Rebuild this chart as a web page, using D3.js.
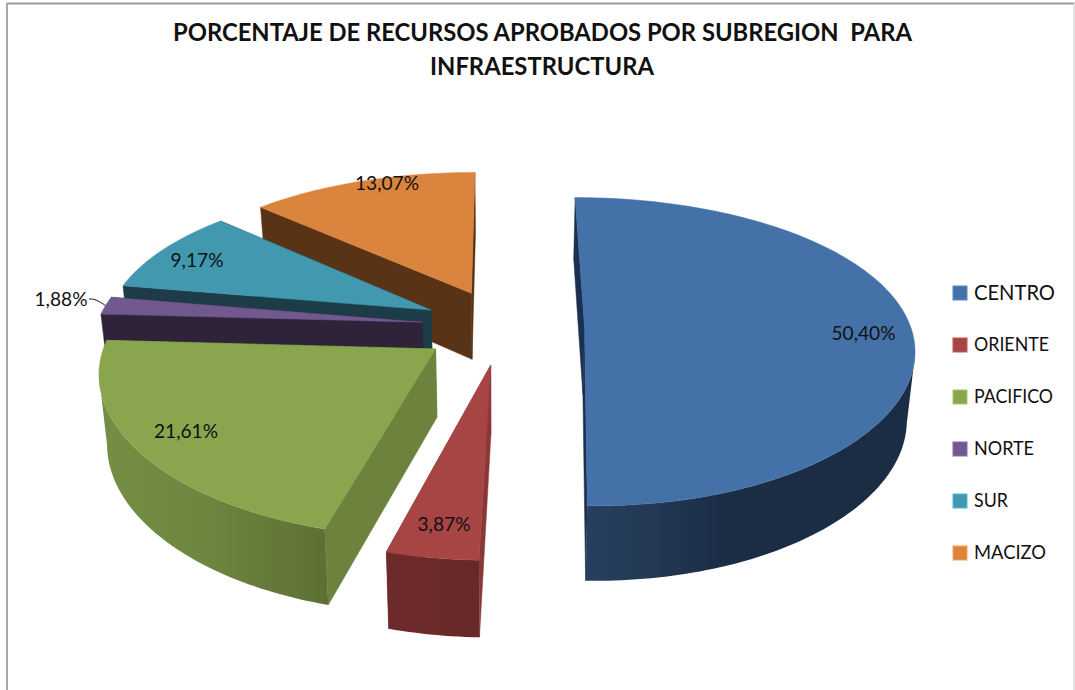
<!DOCTYPE html>
<html>
<head>
<meta charset="utf-8">
<script src="https://cdn.jsdelivr.net/npm/d3@7"></script>
<style>
  html, body { margin: 0; padding: 0; background: #fff; }
  svg { display: block; }
  text { font-family: Lato, "Open Sans", sans-serif; fill: #111; }
</style>
</head>
<body>
<div id="chart"></div>
<script>
// 3D exploded pie: recursos aprobados por subregion

const categories = ["CENTRO", "ORIENTE", "PACIFICO", "NORTE", "SUR", "MACIZO"];
const percentages = [50.40, 3.87, 21.61, 1.88, 9.17, 13.07];
const titleLines = ["PORCENTAJE DE RECURSOS APROBADOS POR SUBREGION  PARA", "INFRAESTRUCTURA"];

const topColors = ["#4472a8", "#a64544", "#89a54e", "#71588f", "#4198af", "#db843d"];
const wallColors = ["#1b3050", "#8a3837", "#6c823d", "#2e2339", "#1c3c47", "#583316"];
const rimStops = [
  ["#273f5e", "#243b58", "#1b2d45"],
  ["#6d2a2a", "#6c2a2a", "#672827"],
  ["#748e44", "#6f8841", "#5d7034"],
  ["#2e2339", "#2e2339", "#2e2339"],
  ["#1c3c47", "#1c3c47", "#1c3c47"],
  ["#583316", "#583316", "#583316"]
];
const rimOffsets = [
  [0, 0.15, 0.42],
  [0, 0.5, 1],
  [0, 0.4, 1],
  [0, 0.5, 1],
  [0, 0.5, 1],
  [0, 0.5, 1]
];

// label centres
const labelPos = [[863.5, 333], [444, 524], [186, 431], [61, 299], [197, 260], [387, 183]];
const legendFont = [22, 19.5, 19.5, 19.5, 19.5, 19.5];
const legendWidth = [81, 75, 79, 60, 34, 72];
const labelWidth = [64, 53, 64, 53, 53, 64];

const width = 1075, height = 690;
const view = {
  cx: 503, cy: 326.5, rx: 326, ry: 150,
  kx: 0.13, ky: 0.16, kd: 0.1,
  explode: 0.25, depth: 67.5, shrink: 0.98
};

const svg = d3.select("#chart").append("svg")
  .attr("width", width)
  .attr("height", height);

svg.append("rect").attr("width", width).attr("height", height).attr("fill", "#fff");

// chart frame
svg.append("line").attr("x1", 6).attr("x2", width).attr("y1", 3.5).attr("y2", 3.5)
  .attr("stroke", "#9a9a9a").attr("stroke-width", 2);
svg.append("line").attr("x1", 7).attr("x2", 7).attr("y1", 3).attr("y2", height)
  .attr("stroke", "#a8a8a8").attr("stroke-width", 2);
svg.append("line").attr("x1", width - 1).attr("x2", width - 1).attr("y1", 3).attr("y2", height)
  .attr("stroke", "#dcdcdc").attr("stroke-width", 1.5);

const titleWidth = [739, 224];
svg.selectAll("text.title").data(titleLines).join("text")
  .attr("class", "title")
  .attr("x", (d, i) => i === 0 ? 542.5 : 542)
  .attr("y", (d, i) => 41 + i * 34)
  .attr("text-anchor", "middle")
  .attr("font-size", 25)
  .attr("font-weight", 700)
  .attr("textLength", (d, i) => titleWidth[i])
  .attr("lengthAdjust", "spacingAndGlyphs")
  .style("white-space", "pre")
  .text(d => d);

const pie = d3.pie().sort(null).value(d => d)(percentages);
const defs = svg.append("defs");

// disc coordinates -> screen, the far side of the disc shrinks
function project(X, Z, down) {
  const x = view.rx * X / (1 + view.kx * Z);
  return [
    view.cx + (down ? x * view.shrink : x),
    view.cy - view.ry * Z / (1 + view.ky * Z) + (down ? view.depth / (1 + view.kd * Z) : 0)
  ];
}

const slices = pie.map((p, i) => {
  const mid = (p.startAngle + p.endAngle) / 2;
  return {
    i, p, mid,
    ox: view.explode * Math.sin(mid),
    oz: view.explode * Math.cos(mid)
  };
});

function rimPoint(s, a, down) {
  return project(s.ox + Math.sin(a), s.oz + Math.cos(a), down);
}
function apex(s, down) {
  return project(s.ox, s.oz, down);
}

const line = d3.line();
const pieLayer = svg.append("g");

// far slices first
slices.slice().sort((a, b) => b.oz - a.oz).forEach(s => {
  const g = pieLayer.append("g");
  const n = Math.max(8, Math.ceil((s.p.endAngle - s.p.startAngle) / 0.02));
  const angles = d3.range(n + 1).map(j => s.p.startAngle + (s.p.endAngle - s.p.startAngle) * j / n);

  // radial walls
  const walls = [s.p.startAngle, s.p.endAngle].map(a => [
    apex(s, false), rimPoint(s, a, false), rimPoint(s, a, true), apex(s, true)
  ]);
  walls.sort((a, b) => d3.mean(a, q => q[1]) - d3.mean(b, q => q[1]));
  walls.forEach(w => {
    g.append("path").attr("d", line(w) + "Z")
      .attr("fill", wallColors[s.i]).attr("stroke", wallColors[s.i]).attr("stroke-width", 0.5);
  });

  // outer wall, only the part that faces the viewer
  const front = angles.filter((a, j) => {
    const next = angles[Math.min(j + 1, n)], prev = angles[Math.max(j - 1, 0)];
    return rimPoint(s, next, false)[0] < rimPoint(s, prev, false)[0];
  });
  if (front.length > 1) {
    const grad = defs.append("linearGradient").attr("id", "rim" + s.i);
    rimStops[s.i].forEach((c, j) => {
      grad.append("stop").attr("offset", rimOffsets[s.i][j]).attr("stop-color", c);
    });
    const pts = front.map(a => rimPoint(s, a, false))
      .concat(front.slice().reverse().map(a => rimPoint(s, a, true)));
    g.append("path").attr("d", line(pts) + "Z").attr("fill", `url(#rim${s.i})`);
  }

  // top face
  const topPts = [apex(s, false)].concat(angles.map(a => rimPoint(s, a, false)));
  g.append("path").attr("d", line(topPts) + "Z")
    .attr("fill", topColors[s.i]).attr("stroke", topColors[s.i]).attr("stroke-width", 0.5);
});

// leader line for the small NORTE slice
const norte = slices[3];
const leaderEnd = rimPoint(norte, norte.mid, false);
svg.append("path")
  .attr("d", d3.line().curve(d3.curveBasis)([
    [labelPos[3][0] + 28, labelPos[3][1]],
    [leaderEnd[0] - 12, labelPos[3][1]],
    [leaderEnd[0] - 7, labelPos[3][1] + 2],
    leaderEnd
  ]))
  .attr("fill", "none").attr("stroke", "#111").attr("stroke-width", 1);

svg.selectAll("text.pct").data(percentages).join("text")
  .attr("class", "pct")
  .attr("x", (d, i) => labelPos[i][0])
  .attr("y", (d, i) => labelPos[i][1] + 7)
  .attr("text-anchor", "middle")
  .attr("font-size", 19.5)
  .attr("textLength", (d, i) => labelWidth[i])
  .attr("lengthAdjust", "spacingAndGlyphs")
  .text(d => d.toFixed(2).replace(".", ",") + "%");

// legend
const legendY = d3.scalePoint().domain(categories).range([293, 553]);
const legend = svg.selectAll("g.legend").data(categories).join("g")
  .attr("class", "legend")
  .attr("transform", d => `translate(953,${legendY(d)})`);

legend.append("rect")
  .attr("x", 0).attr("y", -7).attr("width", 14).attr("height", 14)
  .attr("fill", (d, i) => topColors[i])
  .attr("stroke", (d, i) => d3.color(topColors[i]).brighter(0.6))
  .attr("stroke-width", 1);

legend.append("text")
  .attr("x", 21)
  .attr("y", (d, i) => i === 0 ? 7 : 6)
  .attr("font-size", (d, i) => legendFont[i])
  .attr("textLength", (d, i) => legendWidth[i])
  .attr("lengthAdjust", "spacingAndGlyphs")
  .text(d => d);
</script>
</body>
</html>
